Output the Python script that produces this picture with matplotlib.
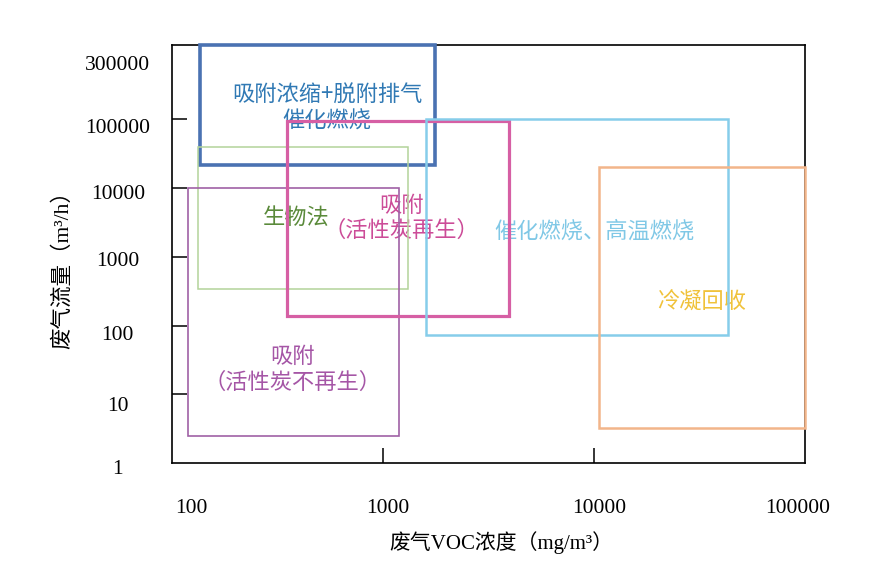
import matplotlib
matplotlib.use('Agg')
import matplotlib.pyplot as plt
import matplotlib.transforms as mtransforms
from matplotlib.patches import Rectangle

plt.rcParams['font.family'] = ['Liberation Serif', 'Noto Sans CJK SC']
plt.rcParams['axes.linewidth'] = 1.2

# process ranges: VOC concentration (mg/m3) x flow (m3/h)
names = ['吸附浓缩+脱附排气\n催化燃烧', '生物法', '吸附\n（活性炭不再生）',
         '吸附\n（活性炭再生）', '催化燃烧、高温燃烧', '冷凝回收']
conc_lo = [135, 133, 119, 350, 1600, 10600]
conc_hi = [1760, 1310, 1190, 3950, 43000, 100000]
flow_lo = [22000, 340, 2.5, 140, 74, 3.2]
flow_hi = [1.21e6, 40000, 10000, 96000, 103000, 20000]
edge_colors = ['#4a72b2', '#b3d39a', '#a061a6', '#d65fa4', '#86cdea', '#f2b58a']
line_widths = [2.6, 1.1, 1.2, 2.3, 1.8, 1.8]
text_colors = ['#3079b4', '#5a8a3a', '#a556a6', '#cc4c98', '#80c8e6', '#f0c23a']
# label anchor (data coords)
label_x = [543, 388, 371, 1225, 10000, 32500]
label_y = [144000, 3800, 23, 3700, 2350, 222]

x_ticks = [100, 1000, 10000, 100000]
x_labels = ['100', '1000', '10000', '100000']
y_ticks = [1, 10, 100, 1000, 10000, 100000, 300000]
y_labels = ['1', '10', '100', '1000', '10000', '100000', '300000']

fig = plt.figure(figsize=(8.94, 5.68), dpi=100)
ax = fig.add_axes([172 / 894, 105 / 568, 633 / 894, 418 / 568])
ax.set_xscale('log')
ax.set_yscale('log')
ax.set_xlim(100, 100000)
ax.set_ylim(10 ** 0.047, 10 ** 6.083)

for i in range(len(names)):
    ax.add_patch(Rectangle((conc_lo[i], flow_lo[i]), conc_hi[i] - conc_lo[i],
                           flow_hi[i] - flow_lo[i], fill=False,
                           edgecolor=edge_colors[i], linewidth=line_widths[i],
                           zorder=3, clip_on=False))
    ax.text(label_x[i], label_y[i], names[i], color=text_colors[i], fontsize=16,
            ha='center', va='center', multialignment='center',
            linespacing=1.15, zorder=2,
            family=['Noto Sans CJK SC', 'Liberation Serif'])

ax.minorticks_off()
ax.set_xticks(x_ticks)
ax.set_xticklabels(x_labels)
ax.set_yticks(y_ticks)
ax.set_yticklabels(y_labels)
ax.tick_params(axis='both', direction='in', length=11, width=1.1,
               labelsize=15.5, colors='black')
ax.tick_params(axis='x', pad=26)
ax.tick_params(axis='y', pad=39)

for t in ax.yaxis.get_major_ticks():
    t.label1.set_horizontalalignment('center')
# hide marks at the ends
for t in [ax.xaxis.get_major_ticks()[0], ax.xaxis.get_major_ticks()[-1]]:
    t.tick1line.set_visible(False)
for t in [ax.yaxis.get_major_ticks()[0], ax.yaxis.get_major_ticks()[-1]]:
    t.tick1line.set_visible(False)

# nudge labels like the original drawing
x_shift = [19, 5, 5, -7]
y_shift = [4, 10, 7, 2, 4, 7, -24]
for lab, dx in zip(ax.get_xticklabels(), x_shift):
    lab.set_transform(lab.get_transform() + mtransforms.ScaledTranslation(dx / 100, 0, fig.dpi_scale_trans))
for lab, dy in zip(ax.get_yticklabels(), y_shift):
    lab.set_transform(lab.get_transform() + mtransforms.ScaledTranslation(0, -dy / 100, fig.dpi_scale_trans))

ax.set_xlabel('废气VOC浓度（mg/m³）', fontsize=15)
ax.set_ylabel('废气流量（m³/h）', fontsize=15.5)
ax.xaxis.set_label_coords(0.52, -0.163)
ax.yaxis.set_label_coords(-0.157, 0.474)

fig.savefig('out.png', dpi=100)
